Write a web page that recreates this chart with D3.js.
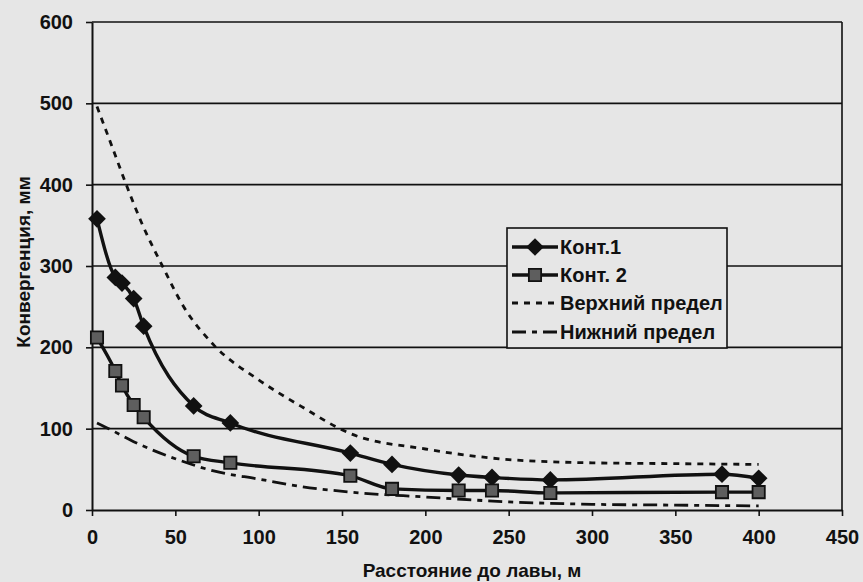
<!DOCTYPE html>
<html>
<head>
<meta charset="utf-8">
<script src="https://cdn.jsdelivr.net/npm/d3@7"></script>
<style>
  html, body { margin: 0; padding: 0; background: #e6e6e6; }
  svg { display: block; }
  text { font-family: "Liberation Sans", Arial, sans-serif; font-weight: bold; fill: #111; }
</style>
</head>
<body>
<svg id="chart" width="863" height="582"></svg>
<script>
// ---- data ----
const distances = [3, 14, 18, 25, 31, 61, 83, 155, 180, 220, 240, 275, 378, 400];
const kont1 = [358, 286, 279, 260, 226, 128, 107, 70, 56, 43, 40, 37, 44, 39];
const kont2 = [212, 171, 153, 129, 114, 66, 58, 42, 26, 24, 24, 21, 22, 22];
const upperX = [3, 12, 20, 30, 42, 55, 73, 100, 125, 155, 200, 250, 300, 350, 400];
const upperY = [496, 447, 403, 352, 301, 250, 203, 160, 128, 94, 75, 62, 58, 57, 56];
const lowerX = [3, 10, 25, 50, 73, 100, 125, 155, 200, 250, 300, 350, 400];
const lowerY = [107, 100, 84, 63, 48, 38, 29, 22, 16, 10, 7, 6, 5];
const xTicks = [0, 50, 100, 150, 200, 250, 300, 350, 400, 450];
const yTicks = [0, 100, 200, 300, 400, 500, 600];
const seriesNames = ["Конт.1", "Конт. 2", "Верхний предел", "Нижний предел"];
const xTitle = "Расстояние до лавы, м";
const yTitle = "Конвергенция, мм";

const svg = d3.select("#chart");
const x = d3.scaleLinear().domain([0, 450]).range([92, 842]);
const y = d3.scaleLinear().domain([0, 600]).range([510, 22]);

// gridlines
svg.append("g").selectAll("line").data(yTicks.filter(d => d > 0)).join("line")
  .attr("x1", x(0)).attr("x2", x(450))
  .attr("y1", d => y(d)).attr("y2", d => y(d))
  .attr("stroke", "#111").attr("stroke-width", 1.6);

// right border
svg.append("line").attr("x1", x(450)).attr("x2", x(450)).attr("y1", y(600)).attr("y2", y(0))
  .attr("stroke", "#111").attr("stroke-width", 1.6);

// axes
const xAxis = svg.append("g").attr("transform", `translate(0,${y(0)})`)
  .call(d3.axisBottom(x).tickValues(xTicks).tickSize(6).tickPadding(14).tickSizeOuter(0));
const yAxis = svg.append("g").attr("transform", `translate(${x(0)},0)`)
  .call(d3.axisLeft(y).tickValues(yTicks).tickSize(6).tickPadding(13).tickSizeOuter(0));
[xAxis, yAxis].forEach(a => {
  a.select(".domain").attr("stroke", "#111").attr("stroke-width", 2);
  a.selectAll(".tick line").attr("stroke", "#111").attr("stroke-width", 1.6);
  a.selectAll("text").attr("font-size", 20).attr("font-family", "Liberation Sans, Arial, sans-serif")
    .attr("font-weight", "bold").attr("fill", "#111");
});
xAxis.selectAll(".tick text").attr("dy", "0.71em");

// limits
const smooth = d3.line().x(d => x(d[0])).y(d => y(d[1])).curve(d3.curveMonotoneX);
svg.append("path").datum(d3.zip(upperX, upperY)).attr("d", smooth)
  .attr("fill", "none").attr("stroke", "#111").attr("stroke-width", 2.8).attr("stroke-dasharray", "6,6");
svg.append("path").datum(d3.zip(lowerX, lowerY)).attr("d", smooth)
  .attr("fill", "none").attr("stroke", "#111").attr("stroke-width", 2.8).attr("stroke-dasharray", "14,6,5,6");

// series lines
const line = d3.line().x(d => x(d[0])).y(d => y(d[1])).curve(d3.curveMonotoneX);
svg.append("path").datum(d3.zip(distances, kont1)).attr("d", line)
  .attr("fill", "none").attr("stroke", "#111").attr("stroke-width", 3.4);
svg.append("path").datum(d3.zip(distances, kont2)).attr("d", line)
  .attr("fill", "none").attr("stroke", "#111").attr("stroke-width", 3.4);

const diamond = d3.symbol().type(d3.symbolDiamond2).size(200);
const square = d3.symbol().type(d3.symbolSquare).size(150);
svg.append("g").selectAll("path").data(d3.zip(distances, kont1)).join("path")
  .attr("d", diamond).attr("transform", d => `translate(${x(d[0])},${y(d[1])})`)
  .attr("fill", "#111");
svg.append("g").selectAll("path").data(d3.zip(distances, kont2)).join("path")
  .attr("d", square).attr("transform", d => `translate(${x(d[0])},${y(d[1])})`)
  .attr("fill", "#5e5e5e").attr("stroke", "#111").attr("stroke-width", 1.8);

// legend
const lg = svg.append("g");
lg.append("rect").attr("x", 507).attr("y", 228).attr("width", 220).attr("height", 120)
  .attr("fill", "#e6e6e6").attr("stroke", "#111").attr("stroke-width", 1.6);
const rowY = [247, 275, 303, 332];
rowY.forEach((ry, i) => {
  const g = lg.append("g");
  const l = g.append("line").attr("x1", 512).attr("x2", 558).attr("y1", ry).attr("y2", ry).attr("stroke", "#111");
  if (i < 2) l.attr("stroke-width", 3.4);
  if (i === 2) l.attr("stroke-width", 2.8).attr("stroke-dasharray", "6,6");
  if (i === 3) l.attr("stroke-width", 2.8).attr("stroke-dasharray", "14,6,5,6");
  if (i === 0) g.append("path").attr("d", diamond).attr("transform", `translate(535,${ry})`).attr("fill", "#111");
  if (i === 1) g.append("path").attr("d", square).attr("transform", `translate(535,${ry})`)
    .attr("fill", "#5e5e5e").attr("stroke", "#111").attr("stroke-width", 1.8);
  g.append("text").attr("x", 560).attr("y", ry).attr("dy", "0.36em").attr("font-size", 20).text(seriesNames[i]);
});

// titles
svg.append("text").attr("x", x(225) + 5).attr("y", 577).attr("text-anchor", "middle")
  .attr("font-size", 19).text(xTitle);
svg.append("text").attr("transform", "translate(30,262) rotate(-90)").attr("text-anchor", "middle")
  .attr("font-size", 19).text(yTitle);
</script>
</body>
</html>
